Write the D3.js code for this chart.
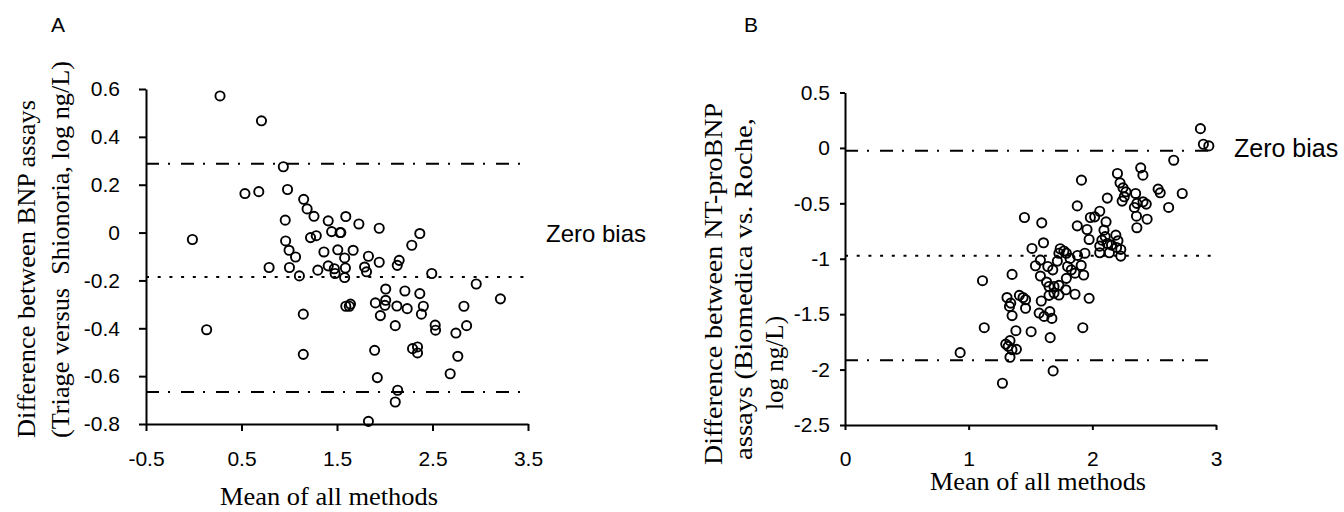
<!DOCTYPE html>
<html>
<head>
<meta charset="utf-8">
<script src="https://cdn.jsdelivr.net/npm/d3@7"></script>
<style>
  html, body { margin: 0; padding: 0; background: #fff; }
  svg { display: block; }
  .title { font-family: "Liberation Serif", "Times New Roman", serif; fill: #000; }
  .sans { font-family: "Liberation Sans", Arial, sans-serif; fill: #000; }
</style>
</head>
<body>
<svg id="chart" width="1344" height="512"></svg>
<script>
// ---------- Panel A data (BNP: Triage vs Shionoria) ----------
const aX = [0.275,0.709,0.938,0.536,0.681,0.982,1.151,1.187,1.259,0.958,1.408,1.592,1.729,1.942,1.444,1.532,1.540,1.223,1.283,-0.014,
            0.962,0.998,1.066,0.789,1.002,1.106,1.299,1.363,1.408,1.508,1.472,1.480,1.580,1.588,1.580,1.669,1.829,1.942,1.789,1.809,
            2.151,2.131,2.283,2.367,2.492,2.958,3.211,2.010,2.211,2.367,1.902,2.010,2.002,2.127,2.235,2.404,2.384,1.592,1.641,1.629,
            1.954,1.147,0.135,2.110,2.528,2.532,2.829,2.857,2.745,2.765,2.291,2.343,2.343,1.894,1.147,2.685,1.922,2.135,2.110,1.829];
const aY = [0.571,0.467,0.275,0.163,0.171,0.180,0.139,0.099,0.068,0.052,0.049,0.067,0.036,0.018,0.004,0.000,0.000,-0.021,-0.013,-0.029,
            -0.035,-0.074,-0.102,-0.146,-0.146,-0.181,-0.157,-0.081,-0.139,-0.072,-0.151,-0.171,-0.106,-0.148,-0.188,-0.074,-0.099,-0.124,-0.144,-0.164,
            -0.116,-0.137,-0.053,-0.004,-0.171,-0.215,-0.277,-0.236,-0.244,-0.255,-0.294,-0.283,-0.304,-0.307,-0.318,-0.308,-0.341,-0.308,-0.299,-0.308,
            -0.347,-0.341,-0.406,-0.389,-0.387,-0.408,-0.308,-0.389,-0.420,-0.517,-0.485,-0.478,-0.503,-0.492,-0.509,-0.590,-0.606,-0.659,-0.708,-0.789];
const aLimits = [0.288, -0.186, -0.666];          // upper LoA, mean bias, lower LoA
const aXTicks = [-0.5, 0.5, 1.5, 2.5, 3.5];
const aXTickLabels = ["-0.5", "0.5", "1.5", "2.5", "3.5"];
const aYTicks = [0.6, 0.4, 0.2, 0, -0.2, -0.4, -0.6, -0.8];
const aYTickLabels = ["0.6", "0.4", "0.2", "0", "-0.2", "-0.4", "-0.6", "-0.8"];

// ---------- Panel B data (NT-proBNP: Biomedica vs Roche) ----------
const bX = [2.874,2.898,2.942,2.658,2.391,2.409,2.203,2.224,2.248,2.272,2.258,2.241,2.35,2.36,2.34,2.357,2.36,2.41,2.436,2.443,
            2.532,2.549,2.617,2.727,1.912,1.878,2.121,2.060,1.984,2.019,1.878,1.957,1.974,2.111,2.094,2.104,2.077,2.121,2.06,2.06,
            2.138,2.19,2.207,2.196,2.23,2.23,2.155,1.94,1.88,1.451,1.591,1.605,1.512,1.74,1.77,1.79,1.73,1.717,1.82,1.54,
            1.58,1.64,1.68,1.80,1.83,1.86,1.91,1.93,1.58,1.63,1.65,1.69,1.73,1.69,1.65,1.79,1.786,1.86,1.974,1.73,
            1.351,1.112,1.31,1.34,1.33,1.41,1.44,1.46,1.46,1.587,1.351,1.57,1.61,1.656,1.673,1.126,1.923,1.382,1.505,1.659,
            1.334,1.30,1.32,1.35,1.386,1.334,0.931,1.683,1.273];
const bY = [0.174,0.033,0.018,-0.111,-0.180,-0.246,-0.231,-0.315,-0.36,-0.396,-0.441,-0.48,-0.411,-0.50,-0.537,-0.616,-0.72,-0.486,-0.507,-0.643,
            -0.372,-0.405,-0.537,-0.411,-0.291,-0.523,-0.453,-0.571,-0.628,-0.622,-0.703,-0.736,-0.826,-0.667,-0.742,-0.80,-0.832,-0.862,-0.886,-0.946,
            -0.946,-0.787,-0.838,-0.898,-0.916,-0.976,-0.877,-0.95,-0.97,-0.628,-0.676,-0.856,-0.907,-0.91,-0.93,-0.95,-0.95,-1.021,-0.997,-1.063,
            -1.012,-1.07,-1.10,-1.07,-1.10,-1.13,-1.06,-1.147,-1.156,-1.21,-1.25,-1.25,-1.24,-1.31,-1.33,-1.177,-1.28,-1.32,-1.357,-1.327,
            -1.141,-1.198,-1.35,-1.40,-1.43,-1.33,-1.35,-1.37,-1.447,-1.381,-1.513,-1.49,-1.52,-1.477,-1.538,-1.622,-1.622,-1.649,-1.658,-1.712,
            -1.739,-1.77,-1.79,-1.82,-1.817,-1.889,-1.847,-2.012,-2.123];
const bLimits = [-0.025, -0.972, -1.916];
const bXTicks = [0, 1, 2, 3];
const bXTickLabels = ["0", "1", "2", "3"];
const bYTicks = [0.5, 0, -0.5, -1, -1.5, -2, -2.5];
const bYTickLabels = ["0.5", "0", "-0.5", "-1", "-1.5", "-2", "-2.5"];

const svg = d3.select("#chart");
const SANS = '"Liberation Sans", Arial, sans-serif';

function panel(cfg) {
  const g = svg.append("g");
  const x = d3.scaleLinear().domain(cfg.xDomain).range(cfg.xRange);
  const y = d3.scaleLinear().domain(cfg.yDomain).range(cfg.yRange);

  const xAxis = d3.axisBottom(x).tickValues(cfg.xTicks)
      .tickFormat((d, i) => cfg.xTickLabels[i]).tickSizeInner(cfg.tick).tickSizeOuter(0).tickPadding(cfg.xPad);
  const yAxis = d3.axisLeft(y).tickValues(cfg.yTicks)
      .tickFormat((d, i) => cfg.yTickLabels[i]).tickSizeInner(cfg.tick).tickSizeOuter(0).tickPadding(cfg.yPad);

  const gx = g.append("g").attr("transform", `translate(0,${cfg.yRange[0]})`).call(xAxis);
  const gy = g.append("g").attr("transform", `translate(${cfg.xRange[0]},0)`).call(yAxis);
  [gx, gy].forEach(a => {
    a.attr("font-size", 21).attr("font-family", SANS);
    a.select(".domain").attr("stroke", "#000").attr("stroke-width", 2);
    a.selectAll(".tick line").attr("stroke", "#000").attr("stroke-width", 2);
    a.selectAll(".tick text").attr("fill", "#000").attr("font-size", 21).attr("font-family", SANS);
  });
  gx.selectAll(".tick text").attr("dy", "0.71em");

  // limit lines
  const styles = [
    {dash: "13,9,2,11", w: 2},
    {dash: "3,8.7", w: 2},
    {dash: "13,9,2,11", w: 2}
  ];
  cfg.limits.forEach((v, i) => {
    g.append("line")
      .attr("x1", x(cfg.lineX[0])).attr("x2", x(cfg.lineX[1]))
      .attr("y1", y(v)).attr("y2", y(v))
      .attr("stroke", "#000").attr("stroke-width", styles[i].w)
      .attr("stroke-dasharray", styles[i].dash);
  });

  // points
  g.append("g").selectAll("circle")
    .data(cfg.xs.map((v, i) => [v, cfg.ys[i]]))
    .join("circle")
    .attr("cx", d => x(d[0])).attr("cy", d => y(d[1]))
    .attr("r", 4.6)
    .attr("fill", "none").attr("stroke", "#000").attr("stroke-width", 1.9);

  return {x, y, g};
}

panel({
  xDomain: [-0.5, 3.5], xRange: [146, 528],
  yDomain: [-0.8, 0.6], yRange: [424, 89],
  xTicks: aXTicks, xTickLabels: aXTickLabels,
  yTicks: aYTicks, yTickLabels: aYTickLabels,
  tick: 7, xPad: 20, yPad: 19,
  limits: aLimits, lineX: [-0.5, 3.5],
  xs: aX, ys: aY
});

panel({
  xDomain: [0, 3], xRange: [845, 1216],
  yDomain: [-2.5, 0.5], yRange: [425, 92.5],
  xTicks: bXTicks, xTickLabels: bXTickLabels,
  yTicks: bYTicks, yTickLabels: bYTickLabels,
  tick: 5, xPad: 21, yPad: 10,
  limits: bLimits, lineX: [0, 3],
  xs: bX, ys: bY
});

// panel letters
svg.append("text").attr("class", "sans").attr("x", 51).attr("y", 32).attr("font-size", 21).text("A");
svg.append("text").attr("class", "sans").attr("x", 744).attr("y", 32).attr("font-size", 21).text("B");

// Zero bias labels
svg.append("text").attr("class", "sans").attr("x", 546).attr("y", 242).attr("font-size", 24).text("Zero bias");
svg.append("text").attr("class", "sans").attr("x", 1234).attr("y", 157).attr("font-size", 25).text("Zero bias");

// x titles
svg.append("text").attr("class", "title").attr("font-size", 25).attr("x", 220).attr("y", 505)
  .attr("textLength", 218).attr("lengthAdjust", "spacingAndGlyphs").text("Mean of all methods");
svg.append("text").attr("class", "title").attr("font-size", 25).attr("x", 930).attr("y", 490)
  .attr("textLength", 216).attr("lengthAdjust", "spacingAndGlyphs").text("Mean of all methods");

// y titles (rotated)
function vtitle(xb, yStart, len, txt) {
  svg.append("text").attr("class", "title").attr("font-size", 25)
    .attr("transform", `translate(${xb},${yStart}) rotate(-90)`)
    .attr("textLength", len).attr("lengthAdjust", "spacingAndGlyphs")
    .attr("xml:space", "preserve")
    .text(txt);
}
vtitle(35, 438, 338, "Difference between BNP assays");
vtitle(69, 438, 377, "(Triage versus  Shionoria, log ng/L)");
vtitle(722, 465, 362, "Difference between NT-proBNP");
vtitle(752, 460, 342, "assays (Biomedica vs. Roche,");
vtitle(783, 410, 94, "log ng/L)");
</script>
</body>
</html>
